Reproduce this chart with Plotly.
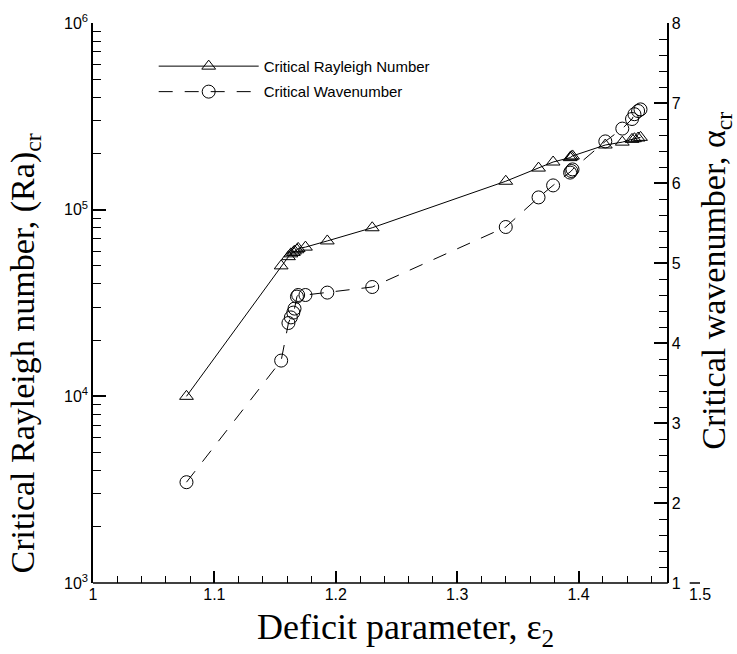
import plotly.graph_objects as go

# Deficit parameter values shared by both curves
eps2 = [1.077, 1.155, 1.161, 1.163, 1.165, 1.166, 1.168, 1.169, 1.175, 1.193,
        1.230, 1.340, 1.367, 1.379, 1.393, 1.394, 1.395, 1.422, 1.436, 1.444,
        1.446, 1.449, 1.451]

# Critical Rayleigh number (left, log axis)
ra_cr = [1.0e4, 5.0e4, 5.6e4, 5.8e4, 5.9e4, 6.0e4, 6.1e4, 6.2e4, 6.3e4, 6.8e4,
         8.0e4, 1.42e5, 1.67e5, 1.80e5, 1.90e5, 1.92e5, 1.94e5, 2.22e5, 2.30e5,
         2.38e5, 2.40e5, 2.42e5, 2.44e5]

# Critical wavenumber (right axis)
alpha_cr = [2.26, 3.78, 4.25, 4.32, 4.38, 4.43, 4.58, 4.60, 4.60, 4.63,
            4.70, 5.45, 5.82, 5.97, 6.13, 6.15, 6.17, 6.52, 6.68, 6.80,
            6.86, 6.90, 6.92]

x_ticks = [1.0, 1.1, 1.2, 1.3, 1.4, 1.5]
x_ticktext = ["1", "1.1", "1.2", "1.3", "1.4", "1.5"]
y_ticks = [1e3, 1e4, 1e5, 1e6]
y_ticktext = ["10<sup>3</sup>", "10<sup>4</sup>", "10<sup>5</sup>", "10<sup>6</sup>"]
y2_ticks = [1, 2, 3, 4, 5, 6, 7, 8]

x_minor = [round(1 + 0.02 * i, 2) for i in range(1, 24) if i % 5 != 0]
y_minor = [m * 10 ** d for d in (3, 4, 5) for m in range(2, 10)]
y2_minor = [round(1 + 0.2 * i, 1) for i in range(1, 35) if i % 5 != 0]

SANS = "Liberation Sans, Arial, sans-serif"
SERIF = "Liberation Serif, Times New Roman, serif"

fig = go.Figure()
fig.add_trace(go.Scatter(
    x=eps2, y=ra_cr, mode="lines+markers", name="Critical Rayleigh Number",
    legendgroup="ra",
    line=dict(color="black", width=1),
    marker=dict(symbol="triangle-up-open", size=12, color="black",
                line=dict(width=1, color="black")),
))
fig.add_trace(go.Scatter(
    x=eps2, y=alpha_cr, mode="lines+markers", name="Critical Wavenumber",
    legendgroup="al", yaxis="y2",
    line=dict(color="black", width=1, dash="14px,12px"),
    marker=dict(symbol="circle-open", size=13, color="black",
                line=dict(width=1, color="black")),
))

axis_pos = 0.947

fig.update_layout(
    width=737, height=654,
    margin=dict(l=93, r=37, t=13, b=71),
    paper_bgcolor="white", plot_bgcolor="white",
    font=dict(family=SANS, color="black", size=15),
    showlegend=True,
    legend=dict(
        x=0.10, y=0.952, xanchor="left", yanchor="top",
        bgcolor="rgba(0,0,0,0)", borderwidth=0,
        font=dict(family=SANS, size=15, color="black"),
        itemwidth=100, traceorder="grouped", tracegroupgap=3,
    ),
    xaxis=dict(
        range=[1, 1.5], showgrid=False, zeroline=False, showline=False,
        tickmode="array", tickvals=x_ticks, ticktext=x_ticktext,
        ticks="inside", ticklen=12, tickwidth=2, tickcolor="black",
        tickfont=dict(family=SANS, size=16),
        minor=dict(tickmode="array", tickvals=x_minor, ticks="inside",
                   ticklen=7, tickwidth=1, tickcolor="black", showgrid=False),
    ),
    yaxis=dict(
        type="log", range=[3, 6], showgrid=False, zeroline=False,
        showline=True, linecolor="black", linewidth=1.5,
        tickmode="array", tickvals=y_ticks, ticktext=y_ticktext,
        ticks="inside", ticklen=13, tickwidth=2, tickcolor="black",
        tickfont=dict(family=SANS, size=16),
        minor=dict(tickmode="array", tickvals=y_minor, ticks="inside",
                   ticklen=8, tickwidth=1, tickcolor="black", showgrid=False),
    ),
    yaxis2=dict(
        overlaying="y", anchor="free", position=axis_pos, side="right",
        range=[1, 8], showgrid=False, zeroline=False,
        showline=True, linecolor="black", linewidth=1.5,
        tickmode="array", tickvals=y2_ticks,
        ticks="inside", ticklen=13, tickwidth=2, tickcolor="black",
        tickfont=dict(family=SANS, size=16),
        minor=dict(tickmode="array", tickvals=y2_minor, ticks="inside",
                   ticklen=8, tickwidth=1, tickcolor="black", showgrid=False),
        automargin=False,
    ),
    shapes=[
        dict(type="line", xref="paper", yref="paper", x0=0, x1=axis_pos,
             y0=0, y1=0, line=dict(color="black", width=1.5)),
        dict(type="line", xref="paper", yref="paper", x0=0.983, x1=1,
             y0=0, y1=0, line=dict(color="black", width=1.5)),
    ],
    annotations=[
        dict(text="Deficit parameter, ε<sub>2</sub>", xref="paper", yref="paper",
             x=0.515, y=-0.083, xanchor="center", yanchor="middle",
             showarrow=False, font=dict(family=SERIF, size=36, color="black")),
        dict(text="Critical Rayleigh number, (Ra)<sub>cr</sub>",
             xref="paper", yref="paper", x=-0.112, y=0.41,
             xanchor="center", yanchor="middle", textangle=-90,
             showarrow=False, font=dict(family=SERIF, size=34, color="black")),
        dict(text="Critical wavenumber, α<sub>cr</sub>",
             xref="paper", yref="paper", x=1.025, y=0.54,
             xanchor="center", yanchor="middle", textangle=-90,
             showarrow=False, font=dict(family=SERIF, size=34, color="black")),
    ],
)

fig.write_html("out.html")
